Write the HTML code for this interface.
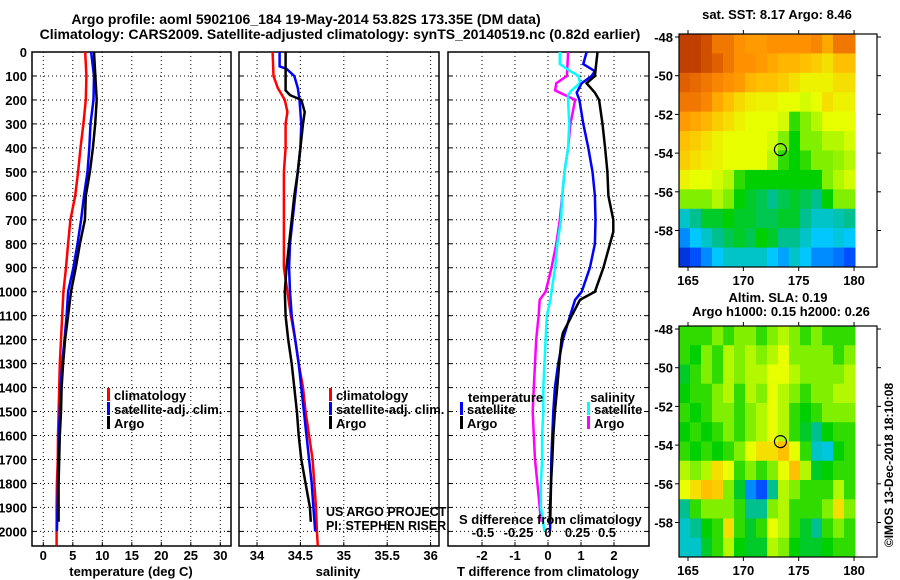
<!DOCTYPE html>
<html><head><meta charset="utf-8"><style>
body{margin:0;background:#fff;}
svg{display:block;font-family:"Liberation Sans",Arial,sans-serif;}
.b{font-weight:bold;font-size:13px;}
</style></head><body>
<svg id="c" width="900" height="580" viewBox="0 0 900 580"></svg>
<script>
// ---- data ----
const tDepthsA=[0,200,300,400,500,600,700,800,900,1000,1100,1200,1300,1400,1500,1600,1700,1800,1900,1960];
const tArgo=[8.6,9.05,8.8,8.4,7.9,7.2,7.05,6.2,5.5,4.7,4.2,3.7,3.35,3.1,3.0,2.8,2.7,2.6,2.6,2.6];
const tDepthsC=[0,100,200,300,400,500,600,700,800,900,1000,1100,1200,1300,1400,1500,1600,1700,1800,1900,2000,2060];
const tClim=[7.1,7.3,7.2,6.8,6.3,5.9,5.4,4.6,4.2,3.85,3.4,3.2,3.0,2.8,2.7,2.6,2.5,2.45,2.3,2.25,2.25,2.25];
const tDepthsS=[0,100,200,300,400,500,600,700,800,900,1000,1100,1200,1300,1400,1500,1600,1700,1800,1900,2000];
const tSat=[8.1,8.6,8.5,8.0,7.8,7.5,6.9,6.4,5.8,5.1,4.2,3.95,3.6,3.2,2.95,2.8,2.65,2.55,2.5,2.4,2.3];
const sDepthsC=[0,100,150,200,250,300,400,500,900,1000,1100,1200,1300,1400,1500,1600,1700,1800,1900,2000,2060];
const sClim=[34.18,34.19,34.24,34.32,34.35,34.33,34.33,34.31,34.31,34.35,34.39,34.44,34.48,34.53,34.56,34.6,34.64,34.66,34.68,34.69,34.70];
const sDepthsS=[0,60,70,100,150,200,300,400,500,600,700,800,900,1000,1100,1200,1300,1400,1500,1600,1700,1800,1900,2000];
const sSat=[34.26,34.26,34.34,34.43,34.47,34.49,34.51,34.5,34.47,34.44,34.41,34.38,34.37,34.38,34.40,34.44,34.48,34.51,34.54,34.57,34.6,34.63,34.65,34.67];
const sDepthsA=[0,160,180,200,250,300,400,500,600,700,800,900,1000,1100,1200,1300,1400,1500,1600,1700,1800,1900,1960];
const sArgo=[34.33,34.33,34.38,34.51,34.55,34.53,34.50,34.47,34.43,34.4,34.37,34.34,34.32,34.33,34.36,34.4,34.43,34.46,34.48,34.51,34.56,34.61,34.62];
const dDepthsA=[0,100,130,170,200,300,400,500,600,700,750,800,900,1000,1034,1172,1200,1300,1400,1500,1600,1700,1800,1900,1960];
const dtArgo=[1.5,1.42,1.17,1.42,1.55,1.65,1.73,1.8,1.83,1.98,1.98,1.88,1.68,1.42,0.97,0.45,0.41,0.34,0.28,0.21,0.16,0.13,0.09,0.06,0.06];
const dDepthsS=[0,50,80,100,130,170,200,300,400,500,600,700,800,900,1000,1034,1100,1200,1300,1400,1500,1600,1700,1800,1900,2000];
const dtSat=[1.17,1.07,1.42,1.32,1.02,0.87,0.95,1.07,1.22,1.35,1.42,1.44,1.42,1.27,1.02,0.82,0.67,0.45,0.31,0.21,0.16,0.13,0.1,0.09,0.08,0.06];
const dsDepthsA=[0,100,130,160,200,250,300,400,500,600,700,800,900,1000,1034,1100,1200,1300,1400,1500,1600,1700,1800,1900,1960];
const dsArgo=[0.17,0.16,0.07,0.06,0.23,0.21,0.19,0.17,0.14,0.12,0.1,0.07,0.03,-0.02,-0.07,-0.08,-0.1,-0.11,-0.12,-0.13,-0.12,-0.11,-0.09,-0.07,-0.06];
const dsDepthsS=[0,50,80,100,130,160,180,200,300,400,500,600,700,800,900,1000,1034,1100,1200,1300,1400,1500,1600,1700,1800,1900,2000];
const dsSat=[0.1,0.1,0.19,0.26,0.27,0.2,0.17,0.17,0.18,0.17,0.14,0.12,0.11,0.08,0.06,0.03,0.02,-0.01,-0.02,-0.03,-0.04,-0.04,-0.05,-0.05,-0.06,-0.06,-0.03];
const depthTicks=[0,100,200,300,400,500,600,700,800,900,1000,1100,1200,1300,1400,1500,1600,1700,1800,1900,2000];
const tTicks=[0,5,10,15,20,25,30];
const sTicks=[34,34.5,35,35.5,36];
const dtTicks=[-2,-1,0,1,2];
const dsTicks=[-0.5,-0.25,0,0.25,0.5];
const dsTickLabels=["-0.5","-0.25","0","0.25","0.5"];
const lonTicks=[165,170,175,180];
const latTicks=[-48,-50,-52,-54,-56,-58];
const sstGrid=[
[1,1,.95,.85,.85,.8,.78,.78,.8,.8,.8,.8,.82,.75,.85,.85],
[1,1,.95,.9,.85,.8,.8,.78,.75,.72,.72,.7,.68,.65,.7,.7],
[.9,.88,.85,.82,.8,.78,.72,.7,.7,.68,.65,.62,.62,.62,.65,.65],
[.85,.85,.82,.75,.7,.66,.63,.62,.62,.6,.6,.58,.6,.65,.62,.62],
[.78,.75,.72,.68,.65,.62,.6,.6,.6,.58,.45,.5,.55,.6,.6,.6],
[.7,.68,.65,.62,.6,.6,.6,.6,.58,.5,.42,.5,.5,.55,.55,.58],
[.68,.65,.63,.62,.6,.6,.6,.6,.55,.45,.42,.45,.5,.5,.52,.55],
[.62,.6,.6,.58,.55,.45,.42,.42,.42,.42,.42,.42,.42,.5,.55,.58],
[.5,.5,.5,.55,.5,.42,.4,.38,.35,.38,.4,.38,.35,.42,.5,.5],
[.3,.35,.4,.4,.42,.4,.4,.38,.38,.4,.4,.35,.3,.3,.32,.35],
[.2,.25,.3,.35,.38,.4,.38,.42,.4,.35,.35,.3,.25,.25,.28,.25],
[.1,.15,.2,.25,.3,.3,.3,.3,.25,.22,.3,.25,.2,.2,.18,.15]];
const slaGrid=[
[.45,.45,.45,.5,.45,.5,.5,.45,.5,.55,.5,.45,.5,.45,.45,.45],
[.45,.42,.5,.45,.55,.5,.55,.5,.55,.6,.5,.5,.5,.5,.45,.5],
[.4,.45,.5,.45,.55,.5,.55,.55,.6,.6,.55,.5,.5,.5,.5,.55],
[.42,.45,.45,.5,.55,.45,.55,.5,.6,.55,.5,.45,.5,.5,.55,.55],
[.45,.42,.45,.5,.5,.45,.5,.55,.6,.55,.45,.42,.45,.5,.5,.5],
[.42,.45,.42,.45,.5,.45,.5,.55,.6,.55,.45,.4,.35,.42,.45,.45],
[.45,.42,.45,.42,.45,.5,.6,.65,.65,.7,.6,.45,.3,.28,.42,.45],
[.55,.5,.55,.65,.6,.45,.5,.45,.5,.6,.7,.55,.4,.42,.45,.45],
[.6,.65,.7,.68,.5,.4,.2,.15,.35,.55,.5,.45,.45,.45,.55,.45],
[.35,.45,.5,.5,.5,.45,.35,.35,.5,.55,.45,.45,.45,.5,.65,.5],
[.3,.35,.42,.45,.65,.45,.4,.45,.6,.55,.45,.4,.35,.45,.5,.45],
[.3,.3,.4,.45,.55,.42,.4,.4,.55,.5,.42,.4,.4,.42,.45,.45]];
const floatLon=173.35, floatLat=-53.82;

// ---- helpers ----
const svg=document.getElementById('c');
const NS='http://www.w3.org/2000/svg';
function el(tag,attrs,parent){const e=document.createElementNS(NS,tag);for(const k in attrs)e.setAttribute(k,attrs[k]);(parent||svg).appendChild(e);return e;}
function txt(x,y,s,anchor,cls,name){const t=el('text',{x:x,y:y,'text-anchor':anchor||'start','class':cls||'b'});t.textContent=s;


return t;}
const yD=d=>52+d*0.2397;
const panels=[
 {x0:32,x1:231,sx:v=>43.3+v*5.9,ticks:tTicks,labels:tTicks.map(String),name:'temperature-panel'},
 {x0:239,x1:439,sx:v=>257+(v-34)*86.8,ticks:sTicks,labels:sTicks.map(String),name:'salinity-panel'},
 {x0:448,x1:649,sx:v=>548+v*33,ticks:dtTicks,labels:dtTicks.map(String),name:'difference-panel'}];
const bottom=546;
panels.forEach((p,i)=>{
 const g=el('g',{});
 
 
 depthTicks.forEach(d=>{el('line',{x1:p.x0,x2:p.x1,y1:yD(d),y2:yD(d),stroke:'#000','stroke-dasharray':'1,3'},g);
   el('line',{x1:p.x0,x2:p.x0+4,y1:yD(d),y2:yD(d),stroke:'#000'},g);el('line',{x1:p.x1-4,x2:p.x1,y1:yD(d),y2:yD(d),stroke:'#000'},g);});
 p.ticks.forEach((t,k)=>{const x=p.sx(t);el('line',{x1:x,x2:x,y1:52,y2:bottom,stroke:'#000','stroke-dasharray':'1,3'},g);
   el('line',{x1:x,x2:x,y1:bottom-4,y2:bottom,stroke:'#000'},g);
   txt(x,560,p.labels[k],'middle','b','x-tick-label');});
 el('rect',{x:p.x0,y:52,width:p.x1-p.x0,height:bottom-52,fill:'none',stroke:'#000','stroke-width':1.5},g);
});
depthTicks.forEach(d=>txt(27,yD(d)+5,String(d),'end','b','y-tick-label'));
function line(px,vals,depths,color,name){
 const pts=vals.map((v,i)=>px(v).toFixed(1)+','+yD(depths[i]).toFixed(1)).join(' ');
 const l=el('polyline',{points:pts,fill:'none',stroke:color,'stroke-width':2.5});
 
 
}
const P=panels;
line(P[0].sx,tClim,tDepthsC,'#f00','temp-climatology-line');
line(P[0].sx,tSat,tDepthsS,'#00f','temp-satellite-line');
line(P[0].sx,tArgo,tDepthsA,'#000','temp-argo-line');
line(P[1].sx,sClim,sDepthsC,'#f00','sal-climatology-line');
line(P[1].sx,sSat,sDepthsS,'#00f','sal-satellite-line');
line(P[1].sx,sArgo,sDepthsA,'#000','sal-argo-line');
const sxS=v=>548+v*118;
line(sxS,dsArgo,dsDepthsA,'#f0f','sdiff-argo-line');
line(sxS,dsSat,dsDepthsS,'#0ff','sdiff-satellite-line');
line(P[2].sx,dtSat,dtDepthsS_fix(),'#00f','tdiff-satellite-line');
function dtDepthsS_fix(){return dDepthsS;}
line(P[2].sx,dtArgo,dDepthsA,'#000','tdiff-argo-line');
// legends
function leg(x,y,color,label,name){el('rect',{x:x,y:y-10,width:3,height:13,fill:color});txt(x+7,y+2,label,'start','b',name);}
leg(107,398,'#f00','climatology','legend-climatology');leg(107,412,'#00f','satellite-adj. clim.','legend-satellite');leg(107,426,'#000','Argo','legend-argo');
leg(329,398,'#f00','climatology','legend-climatology');leg(329,412,'#00f','satellite-adj. clim.','legend-satellite');leg(329,426,'#000','Argo','legend-argo');
txt(468,402,'temperature','start','b','legend-temperature-title');
leg(460,412,'#00f','satellite','legend-t-satellite');leg(460,426,'#000','Argo','legend-t-argo');
txt(635,402,'salinity','end','b','legend-salinity-title');
leg(587,412,'#0ff','satellite','legend-s-satellite');leg(587,426,'#f0f','Argo','legend-s-argo');
txt(459,524,'S difference from climatology','start','b','s-axis-title');
dsTicks.forEach((t,k)=>txt(sxS(t)+(t===-0.5?-6:0),537,dsTickLabels[k],'middle','b','s-tick-label'));
txt(326,516,'US ARGO PROJECT','start','',"project-credit").setAttribute('style','font-size:12.5px');
txt(326,530,'PI: STEPHEN RISER','start','',"pi-credit").setAttribute('style','font-size:12.5px');
txt(131,576,'temperature (deg C)','middle','b','x-axis-title-temperature');
txt(338,576,'salinity','middle','b','x-axis-title-salinity');
txt(548,576,'T difference from climatology','middle','b','x-axis-title-tdiff');
const t1=txt(306,24,'Argo profile: aoml 5902106_184 19-May-2014 53.82S 173.35E (DM data)','middle','b','title-line-1');t1.setAttribute('style','font-size:14px');
const t2=txt(340,39,'Climatology: CARS2009. Satellite-adjusted climatology: synTS_20140519.nc (0.82d earlier)','middle','b','title-line-2');t2.setAttribute('style','font-size:14px');
// maps
const stops=[[0,[0,0,160]],[.15,[0,80,255]],[.25,[0,200,255]],[.35,[0,192,144]],[.42,[0,208,0]],[.5,[128,240,0]],[.6,[232,255,0]],[.7,[255,192,0]],[.8,[255,144,0]],[.9,[224,96,0]],[1,[192,64,0]]];
function cmap(v){for(let i=1;i<stops.length;i++){if(v<=stops[i][0]){const a=stops[i-1],b=stops[i],f=(v-a[0])/(b[0]-a[0]);return 'rgb('+a[1].map((c,j)=>Math.round(c+(b[1][j]-c)*f)).join(',')+')';}}return 'rgb(192,64,0)';}
function map(grid,y0,y1,latTop,latBot,name){
 const x0=679,x1=855,fx=877;
 const lx=l=>688+(l-165)*11.07;
 const ly=l=>y0+3+(latTop-l)*(latBot-latTop===0?0:(y1-y0-3)/(latTop-latBot));
 const g=el('g',{});
 
 
 const R=grid.length,C=grid[0].length,cw=(x1-x0)/C,ch=(y1-y0)/R;
 grid.forEach((row,r)=>row.forEach((v,c)=>{el('rect',{x:x0+c*cw,y:y0+r*ch,width:cw+0.5,height:ch+0.5,fill:cmap(v)},g);}));
 el('rect',{x:x0,y:y0,width:fx-x0,height:y1-y0,fill:'none',stroke:'#000','stroke-width':1.2},g);
 const sc=(y1-y0-3)/(-latTicks[0]+latTicks[latTicks.length-1])* -1;
 latTicks.forEach(l=>{const y=y0+3+(latTicks[0]-l)*19.35;el('line',{x1:x0-4,x2:x0,y1:y,y2:y,stroke:'#000'},g);el('line',{x1:fx,x2:fx+4,y1:y,y2:y,stroke:'#000'},g);txt(673,y+5,String(l),'end','b','lat-tick-label');});
 lonTicks.forEach(l=>{const x=lx(l);el('line',{x1:x,x2:x,y1:y1,y2:y1+4,stroke:'#000'},g);el('line',{x1:x,x2:x,y1:y0-4,y2:y0,stroke:'#000'},g);txt(x,y1+18,String(l),'middle','b','lon-tick-label');});
 const c=el('circle',{cx:lx(floatLon),cy:y0+3+(latTicks[0]-floatLat)*19.35,r:6,fill:'none',stroke:'#000','stroke-width':1.2},g);
 
 
}
map(sstGrid,34,267,-48,-58,'sst-map');
map(slaGrid,326,557,-48,-58,'sla-map');
txt(777,19,'sat. SST: 8.17 Argo: 8.46','middle','b','sst-map-title');
txt(778,302,'Altim. SLA: 0.19','middle','b','sla-map-title');
txt(781,316,'Argo h1000: 0.15 h2000: 0.26','middle','b','sla-map-subtitle');
const cr=txt(0,0,'©IMOS 13-Dec-2018 18:10:08','middle','','imos-credit');
cr.setAttribute('transform','translate(893,465) rotate(-90)');cr.setAttribute('style','font-size:12px');
</script>
</body></html>
